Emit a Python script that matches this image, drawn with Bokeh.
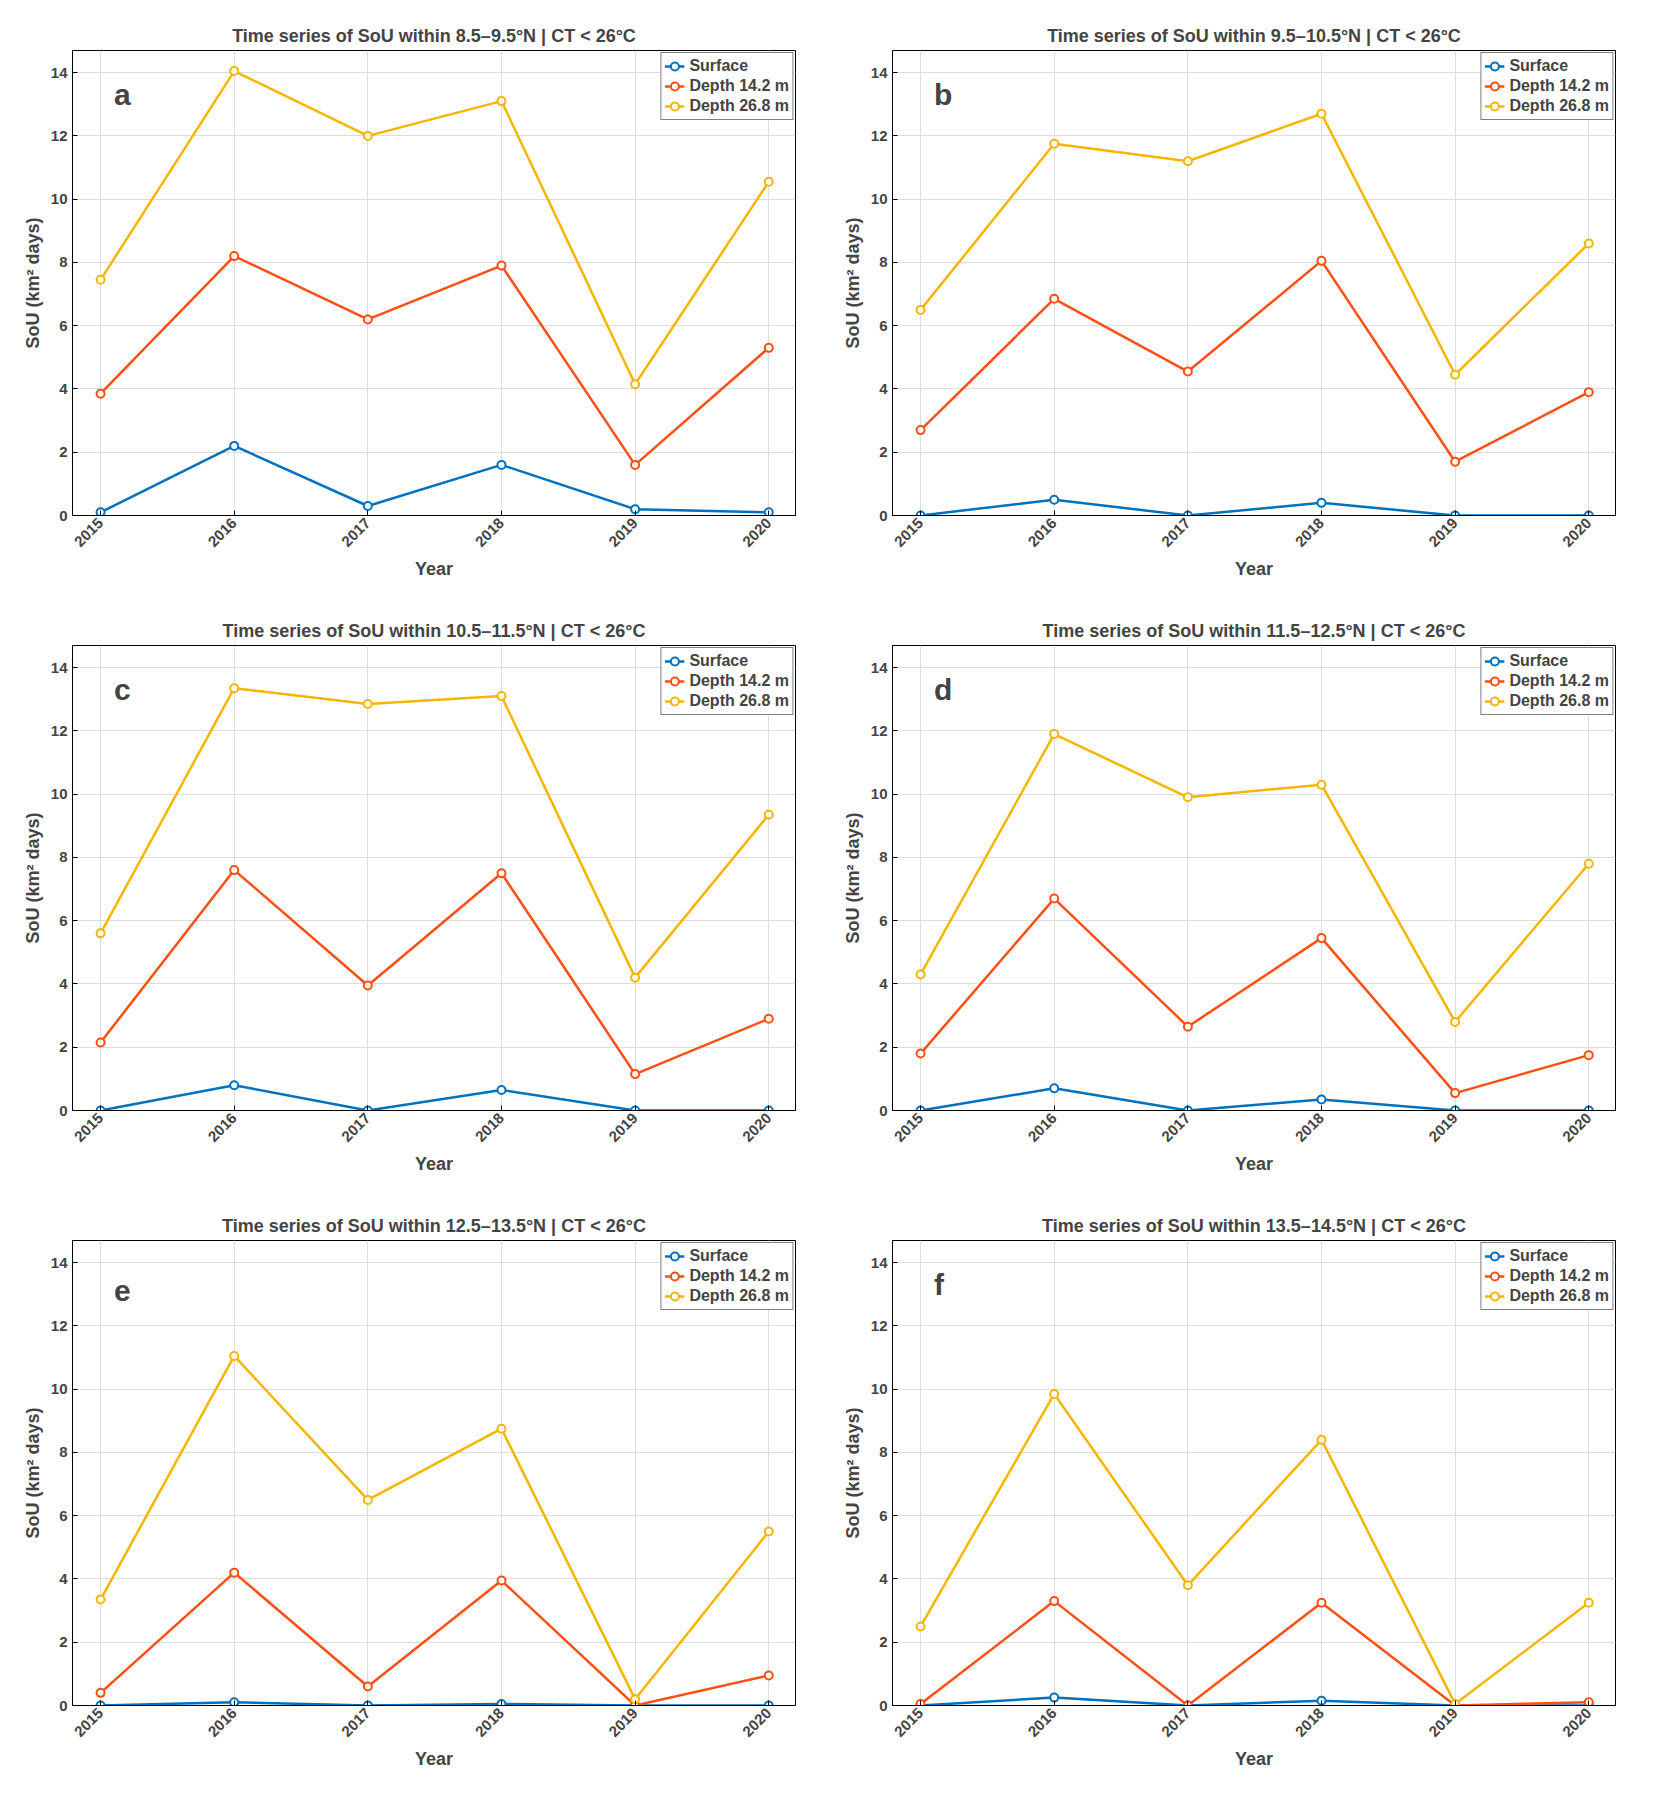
from bokeh.plotting import figure
from bokeh.layouts import gridplot
from bokeh.models import Label, FixedTicker, Range1d
from bokeh.embed import file_html
from bokeh.resources import INLINE

years = [2015, 2016, 2017, 2018, 2019, 2020]
bands = ["8.5–9.5", "9.5–10.5", "10.5–11.5", "11.5–12.5", "12.5–13.5", "13.5–14.5"]
letters = ["a", "b", "c", "d", "e", "f"]
surface = [
    [0.1, 2.2, 0.3, 1.6, 0.2, 0.1],
    [0.0, 0.5, 0.0, 0.4, 0.0, 0.0],
    [0.0, 0.8, 0.0, 0.65, 0.0, 0.0],
    [0.0, 0.7, 0.0, 0.35, 0.0, 0.0],
    [0.0, 0.1, 0.0, 0.05, 0.0, 0.0],
    [0.0, 0.25, 0.0, 0.15, 0.0, 0.0],
]
depth14 = [
    [3.85, 8.2, 6.2, 7.9, 1.6, 5.3],
    [2.7, 6.85, 4.55, 8.05, 1.7, 3.9],
    [2.15, 7.6, 3.95, 7.5, 1.15, 2.9],
    [1.8, 6.7, 2.65, 5.45, 0.55, 1.75],
    [0.4, 4.2, 0.6, 3.95, 0.0, 0.95],
    [0.05, 3.3, 0.0, 3.25, 0.0, 0.1],
]
depth26 = [
    [7.45, 14.05, 12.0, 13.1, 4.15, 10.55],
    [6.5, 11.75, 11.2, 12.7, 4.45, 8.6],
    [5.6, 13.35, 12.85, 13.1, 4.2, 9.35],
    [4.3, 11.9, 9.9, 10.3, 2.8, 7.8],
    [3.35, 11.05, 6.5, 8.75, 0.2, 5.5],
    [2.5, 9.85, 3.8, 8.4, 0.05, 3.25],
]
series_names = ["Surface", "Depth 14.2 m", "Depth 26.8 m"]
colors = ["#0072BD", "#FF4F12", "#F7B500"]
FONT = "Liberation Sans"

figs = []
for i in range(6):
    p = figure(width=820, height=595, output_backend="svg", toolbar_location=None,
               x_range=Range1d(2014.79, 2020.2), y_range=Range1d(0, 14.7),
               min_border_left=72, min_border_right=25, min_border_top=50, min_border_bottom=80)
    p.title.text = f"Time series of SoU within {bands[i]}°N | CT < 26°C"
    p.title.align = "center"
    p.title.text_font = FONT
    p.title.text_font_size = "18px"
    p.title.text_font_style = "bold"
    p.outline_line_color = "black"
    p.xaxis.axis_label = "Year"
    p.yaxis.axis_label = "SoU (km² days)"
    for ax in (p.xaxis, p.yaxis):
        ax.axis_label_text_font = FONT
        ax.axis_label_text_font_style = "bold"
        ax.axis_label_text_font_size = "18px"
        ax.major_label_text_font = FONT
        ax.major_label_text_font_style = "bold"
        ax.major_label_text_font_size = "15px"
        ax.major_tick_in = 5
        ax.major_tick_out = 0
        ax.minor_tick_line_color = None
    p.xaxis.ticker = FixedTicker(ticks=years)
    p.yaxis.ticker = FixedTicker(ticks=[0, 2, 4, 6, 8, 10, 12, 14])
    p.xaxis.major_label_orientation = 0.785
    p.grid.grid_line_color = "#dddddd"
    for data, name, c in zip([surface[i], depth14[i], depth26[i]], series_names, colors):
        p.line(years, data, line_color=c, line_width=2.5, legend_label=name)
        p.scatter(years, data, size=8, line_color=c, fill_color="white", line_width=2, legend_label=name)
    p.legend.location = "top_right"
    p.legend.border_line_color = "black"
    p.legend.label_text_font = FONT
    p.legend.label_text_font_style = "bold"
    p.legend.label_text_font_size = "16px"
    p.legend.spacing = 0
    p.legend.padding = 3
    p.legend.margin = 2
    p.legend.glyph_height = 20
    p.legend.label_height = 20
    p.legend.label_standoff = 5
    p.add_layout(Label(x=2015.1, y=12.8, text=letters[i],
                       text_font=FONT, text_font_style="bold", text_font_size="30px"))
    p.add_layout(Label(x=2014.79, y=14.7, y_offset=2, text="×10⁵", text_baseline="bottom",
                       text_font=FONT, text_font_size="15px"))
    figs.append(p)

grid = gridplot([[figs[0], figs[1]], [figs[2], figs[3]], [figs[4], figs[5]]],
                toolbar_location=None)
open("out.html", "w").write(file_html(grid, INLINE))
